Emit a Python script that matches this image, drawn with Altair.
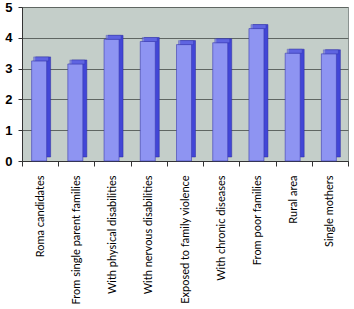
import altair as alt
import pandas as pd

categories = ["Roma candidates", "From single parent families", "With physical disabilities",
              "With nervous disabilities", "Exposed to family violence", "With chronic diseases",
              "From poor families", "Rural area", "Single mothers"]
values = [3.25, 3.15, 3.95, 3.88, 3.78, 3.84, 4.30, 3.50, 3.48]

df = pd.DataFrame({"cat": categories, "val": values})

xenc = alt.X("cat:N", sort=categories, title=None,
             scale=alt.Scale(paddingInner=0, paddingOuter=0),
             axis=alt.Axis(labelAngle=-90, labelAlign="right", labelBaseline="middle",
                           labelFont="Lato", labelFontSize=11, labelColor="#000",
                           labelPadding=9, tickBand="extent", tickColor="#333",
                           tickSize=5, domainColor="#333", labelLimit=200))
yenc = alt.Y("val:Q", title=None,
             scale=alt.Scale(domain=[0, 5], nice=False),
             axis=alt.Axis(values=[0, 1, 2, 3, 4, 5], labelFont="Liberation Sans", labelFontSize=13,
                           labelFontWeight="bold", labelColor="#000", labelPadding=6,
                           tickColor="#333", tickSize=4, domainColor="#333",
                           gridColor="#5f6662", gridWidth=1))

base = alt.Chart(df)

side = base.mark_bar(size=15, color="#4246d6", xOffset=3, yOffset=-4,
                     stroke="#2a2aa0", strokeWidth=0.5).encode(x=xenc, y=yenc)
front = base.mark_bar(size=15, color="#8e94f2", xOffset=-1,
                      stroke="#3a3ab0", strokeWidth=0.6).encode(x=xenc, y=yenc)
top = base.mark_tick(size=15, thickness=4, color="#6c72e6", xOffset=1, yOffset=-2,
                     stroke="#2a2aa0", strokeWidth=0.4).encode(x=xenc, y=yenc)

chart = alt.layer(side, front, top).properties(
    width=326, height=154,
    autosize=alt.AutoSizeParams(type="none"),
    padding={"left": 22, "top": 7, "right": 6, "bottom": 148},
    background="white",
).configure_view(fill="#c4cec9", stroke="#8a9290", strokeWidth=1)

chart.save("out.html", embed_options={"renderer": "svg", "actions": False})
